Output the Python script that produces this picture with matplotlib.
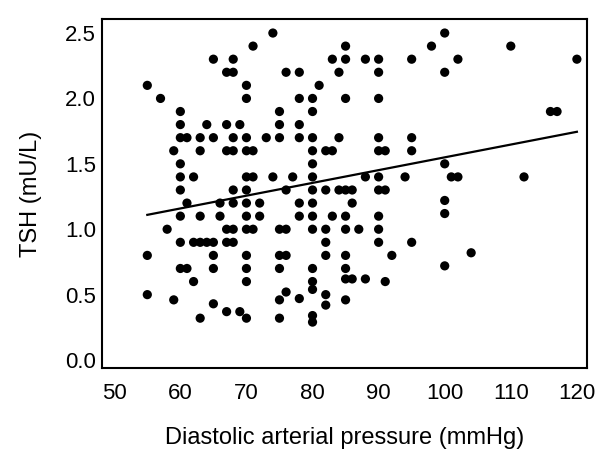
import matplotlib
matplotlib.use("Agg")
import matplotlib.pyplot as plt

# Diastolic arterial pressure (mmHg) and TSH (mU/L)
dap = [
    74, 71, 65, 68, 67, 68, 55, 57, 70, 70, 60, 60, 64, 67, 69,
    60, 61, 63, 65, 68, 70, 73, 59, 63, 67, 68, 70, 71, 60, 60, 62,
    70, 71, 74, 60, 68, 70,
    85, 98, 83, 85, 88, 90, 95, 76, 78, 84, 90, 81, 78, 80, 85, 90,
    75, 80, 75, 78, 75, 78, 80, 84, 90, 95, 80, 82, 83, 90, 91, 95,
    80, 77, 80, 88, 90, 94, 76, 80, 82, 84, 85, 86, 90, 91,
    100, 110, 102, 120, 100, 116, 117, 100, 101, 102, 112,
    61, 66, 68, 70, 72, 60, 63, 66, 70, 72, 58, 67, 68, 70, 71,
    60, 62, 63, 64, 65, 67, 68, 55, 65, 70, 60, 61, 65, 70, 62, 70,
    55, 59, 65, 67, 69, 63, 70,
    78, 80, 86, 78, 80, 83, 85, 90, 75, 76, 80, 82, 85, 87, 90,
    82, 90, 95, 75, 76, 82, 85, 92, 75, 80, 85, 80, 85, 86, 88, 91,
    80, 76, 75, 78, 82, 82, 85, 75, 80, 80,
    100, 100, 104, 100,
]
tsh = [
    2.5, 2.4, 2.3, 2.3, 2.2, 2.2, 2.1, 2.0, 2.1, 2.0, 1.9, 1.8, 1.8, 1.8, 1.8,
    1.7, 1.7, 1.7, 1.7, 1.7, 1.7, 1.7, 1.6, 1.6, 1.6, 1.6, 1.6, 1.6, 1.5, 1.4, 1.4,
    1.4, 1.4, 1.4, 1.3, 1.3, 1.3,
    2.4, 2.4, 2.3, 2.3, 2.3, 2.3, 2.3, 2.2, 2.2, 2.2, 2.2, 2.1, 2.0, 2.0, 2.0, 2.0,
    1.9, 1.9, 1.8, 1.8, 1.7, 1.7, 1.7, 1.7, 1.7, 1.7, 1.6, 1.6, 1.6, 1.6, 1.6, 1.6,
    1.5, 1.4, 1.4, 1.4, 1.4, 1.4, 1.3, 1.3, 1.3, 1.3, 1.3, 1.3, 1.3, 1.3,
    2.5, 2.4, 2.3, 2.3, 2.2, 1.9, 1.9, 1.5, 1.4, 1.4, 1.4,
    1.2, 1.2, 1.2, 1.2, 1.2, 1.1, 1.1, 1.1, 1.1, 1.1, 1.0, 1.0, 1.0, 1.0, 1.0,
    0.9, 0.9, 0.9, 0.9, 0.9, 0.9, 0.9, 0.8, 0.8, 0.8, 0.7, 0.7, 0.7, 0.7, 0.6, 0.6,
    0.5, 0.46, 0.43, 0.37, 0.37, 0.32, 0.32,
    1.2, 1.2, 1.2, 1.1, 1.1, 1.1, 1.1, 1.1, 1.0, 1.0, 1.0, 1.0, 1.0, 1.0, 1.0,
    0.9, 0.9, 0.9, 0.8, 0.8, 0.8, 0.8, 0.8, 0.7, 0.7, 0.7, 0.6, 0.62, 0.62, 0.62, 0.6,
    0.54, 0.52, 0.46, 0.47, 0.5, 0.42, 0.46, 0.32, 0.34, 0.29,
    1.22, 1.12, 0.82, 0.72,
]

# regression line end points
fit_x = [55, 120]
fit_y = [1.11, 1.745]

xticks = [50, 60, 70, 80, 90, 100, 110, 120]
yticks = [0.0, 0.5, 1.0, 1.5, 2.0, 2.5]

plt.rcParams['font.family'] = ['Liberation Sans', 'DejaVu Sans']

fig = plt.figure(figsize=(6, 4.53), dpi=100)
ax = fig.add_axes([0.1695, 0.1876, 0.8085, 0.7698])

ax.scatter(dap, tsh, s=44, color='black', edgecolors='none', zorder=3)
ax.plot(fit_x, fit_y, color='black', linewidth=1.6, zorder=2)

ax.set_xlim(48.1, 121.5)
ax.set_ylim(-0.061, 2.605)
ax.set_xticks(xticks)
ax.set_yticks(yticks)
ax.set_yticklabels([f"{v:.1f}" for v in yticks])
ax.tick_params(axis='both', length=0, labelsize=16)
ax.tick_params(axis='x', pad=11)
ax.tick_params(axis='y', pad=4)

for sp in ax.spines.values():
    sp.set_linewidth(1.5)

ax.set_xlabel('Diastolic arterial pressure (mmHg)', fontsize=17, labelpad=16)
ax.set_ylabel('TSH (mU/L)', fontsize=17, labelpad=17)

fig.savefig('out.png', dpi=100)
